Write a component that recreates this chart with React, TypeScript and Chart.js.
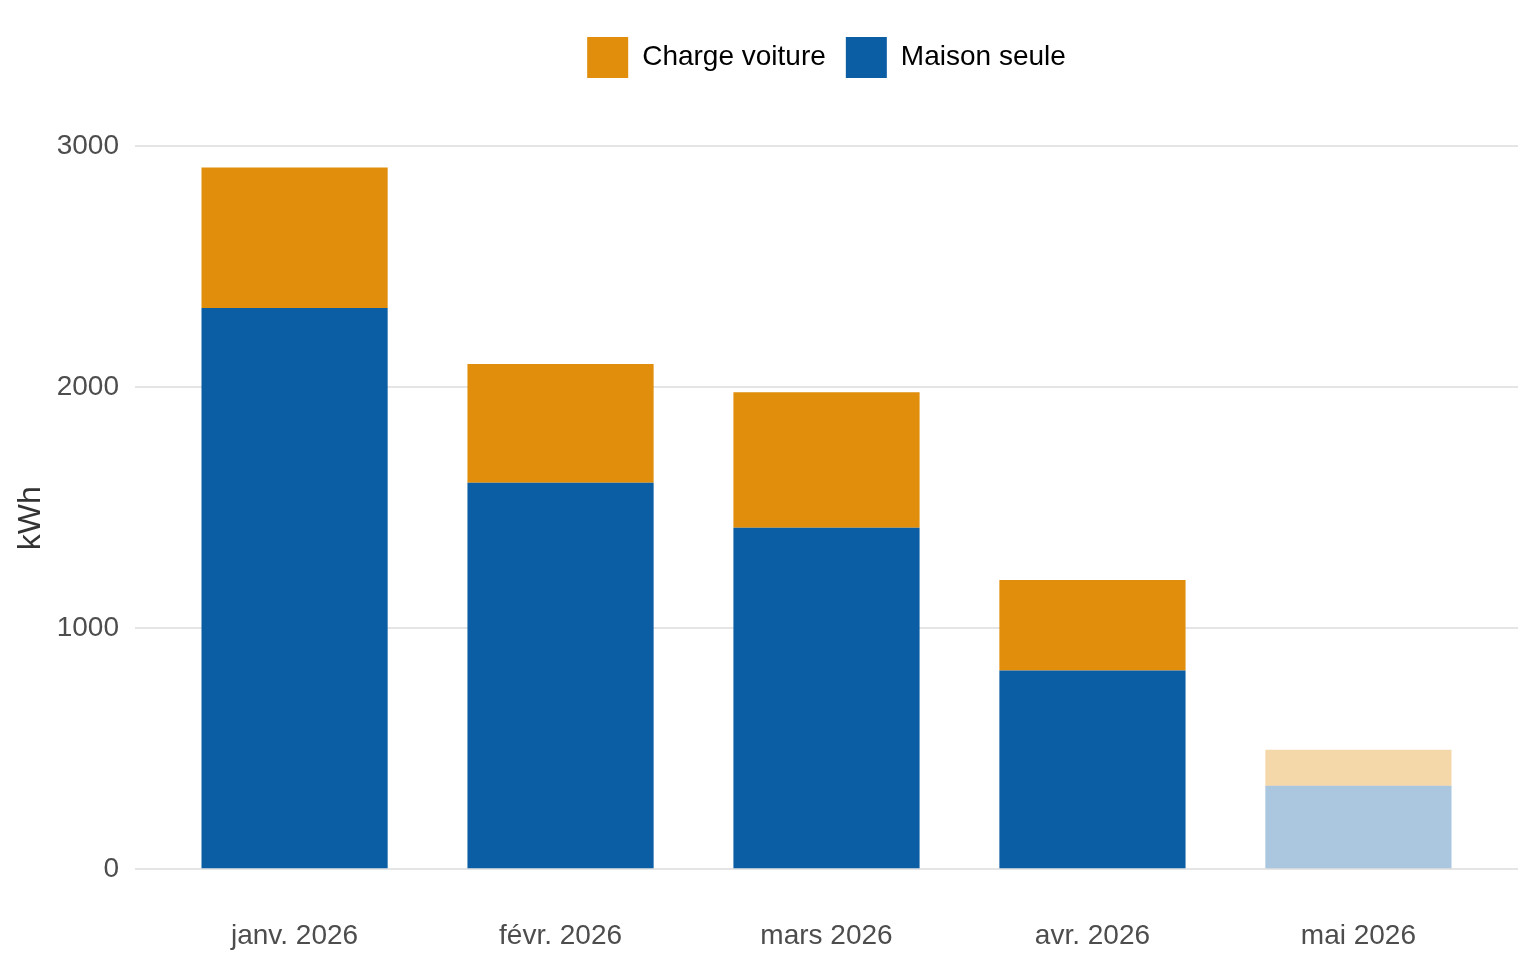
import { useEffect, useRef } from "react";
import Chart from "chart.js/auto";

const months = ["janv. 2026", "févr. 2026", "mars 2026", "avr. 2026", "mai 2026"];
const maisonSeule = [2329, 1604, 1417, 825, 346];
const chargeVoiture = [583, 492, 562, 375, 150];
const partialMonth = [false, false, false, false, true];
const yTicks = [0, 1000, 2000, 3000];

const ORANGE = "#E08E0B";
const BLUE = "#0B5EA3";
const ORANGE_FADED = "rgba(224,142,11,0.35)";
const BLUE_FADED = "rgba(11,94,163,0.35)";

// centre the legend over the plot area instead of the whole canvas
const legendOverPlot = {
    id: "legendOverPlot",
    afterLayout(chart: Chart) {
        const lg: any = chart.legend;
        if (!lg) return;
        const dx = (chart.chartArea.left + chart.chartArea.right) / 2 - (lg.left + lg.right) / 2;
        lg.left += dx;
        lg.right += dx;
    },
};

export default function App() {
    const canvasRef = useRef<HTMLCanvasElement | null>(null);
    const chartRef = useRef<Chart | null>(null);

    useEffect(() => {
        document.body.style.margin = "0";
        if (!canvasRef.current) return;
        if (chartRef.current) chartRef.current.destroy();

        const font = "'Liberation Sans', Arial, Helvetica, sans-serif";

        chartRef.current = new Chart(canvasRef.current, {
            type: "bar",
            data: {
                datasets: [
                    {
                        label: "Maison seule",
                        data: maisonSeule.map((v, i) => ({ x: i + 1, y: v })),
                        backgroundColor: partialMonth.map((p) => (p ? BLUE_FADED : BLUE)),
                        borderWidth: 0,
                        categoryPercentage: 1,
                        barPercentage: 0.7,
                    },
                    {
                        label: "Charge voiture",
                        data: chargeVoiture.map((v, i) => ({ x: i + 1, y: v })),
                        backgroundColor: partialMonth.map((p) => (p ? ORANGE_FADED : ORANGE)),
                        borderWidth: 0,
                        categoryPercentage: 1,
                        barPercentage: 0.7,
                    },
                ],
            },
            options: {
                animation: false,
                responsive: true,
                maintainAspectRatio: false,
                layout: { padding: { left: 0, right: 18, top: 17, bottom: 0 } },
                plugins: {
                    tooltip: { enabled: false },
                    // empty title used as a spacer between the legend and the plot
                    title: {
                        display: true,
                        text: "",
                        weight: 500,
                        font: { size: 1 },
                        padding: { top: 43, bottom: 0 },
                    },
                    legend: {
                        position: "top",
                        reverse: true,
                        labels: {
                            boxWidth: 41,
                            boxHeight: 41,
                            padding: 20,
                            color: "#000000",
                            font: { family: font, size: 28 },
                            generateLabels: (chart) =>
                                Chart.defaults.plugins.legend.labels
                                    .generateLabels(chart)
                                    .map((l) => ({
                                        ...l,
                                        fillStyle: l.text === "Maison seule" ? BLUE : ORANGE,
                                        lineWidth: 0,
                                    })),
                        },
                    },
                },
                scales: {
                    x: {
                        type: "linear",
                        stacked: true,
                        offset: false,
                        min: 0.4,
                        max: 5.6,
                        afterBuildTicks: (scale) => {
                            scale.ticks = months.map((_, i) => ({ value: i + 1 }));
                        },
                        ticks: {
                            color: "#4D4D4D",
                            font: { family: font, size: 28 },
                            padding: 7,
                            callback: (value) => months[Number(value) - 1] ?? "",
                        },
                        grid: { display: false },
                        border: { display: false },
                    },
                    y: {
                        stacked: true,
                        min: -146,
                        max: 3058,
                        afterBuildTicks: (scale) => {
                            scale.ticks = yTicks.map((v) => ({ value: v }));
                        },
                        afterFit: (scale) => {
                            scale.width = 135;
                        },
                        ticks: {
                            color: "#4D4D4D",
                            font: { family: font, size: 28 },
                            padding: 16,
                            callback: (value) => String(value),
                        },
                        grid: { color: "#E5E5E5", lineWidth: 2, drawTicks: false },
                        border: { display: false },
                        title: {
                            display: true,
                            text: "kWh",
                            color: "#333333",
                            font: { family: font, size: 32 },
                            padding: { top: 12, bottom: 0 },
                        },
                    },
                },
            },
            plugins: [legendOverPlot],
        });

        return () => {
            if (chartRef.current) chartRef.current.destroy();
            chartRef.current = null;
        };
    }, []);

    return (
        <div style={{ width: 1536, height: 960, position: "relative", background: "#FFFFFF" }}>
            <canvas ref={canvasRef} />
        </div>
    );
}
